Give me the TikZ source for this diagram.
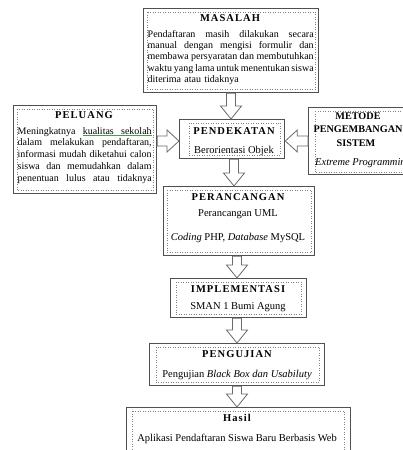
\documentclass[tikz,border=0pt]{standalone}
\usepackage{fontspec}
\setmainfont{Liberation Serif}
\newfontfamily\headfont[LetterSpace=10]{Liberation Serif}
\usetikzlibrary{calc}

\definecolor{edge}{HTML}{505050}
\definecolor{dots}{HTML}{808080}
\definecolor{arrowline}{HTML}{6A6A6A}
\definecolor{spellmark}{HTML}{4E9A4E}

% one justified line of fixed width
\newcommand\jl[2]{\makebox[#1][s]{\spaceskip=.25em plus 1fil minus .1em\relax #2}}
% green underline under a word, and under a stretched gap
\newcommand\gul[1]{\setbox0\hbox{#1}\rlap{{\color{spellmark}\rule[-1.6pt]{\wd0}{0.5pt}}}\box0}
\newcommand\gulgap{\leaders\hbox{{\color{spellmark}\rule[-1.6pt]{0.5pt}{0.5pt}}}\hskip .25em plus 1fil minus .1em\relax}
% dotted frame inside a box: node, left, top, right, bottom insets
\newcommand\inbox[5]{\draw[dotbox] ($(#1.north west)+(#2,#3)$) rectangle ($(#1.south east)+(-#4,-#5)$);}
% hollow block arrow pointing down: from, to, x
\newcommand\blockdown[3]{%
  \draw[barrow] let \p1=(#1.south), \p2=(#2.north) in
    ({#3pt-4.5pt},\y1) -- ({#3pt-4.5pt},{\y2+13pt}) -- ({#3pt-10.5pt},{\y2+13pt}) -- (#3pt,\y2)
    -- ({#3pt+10.5pt},{\y2+13pt}) -- ({#3pt+4.5pt},{\y2+13pt}) -- ({#3pt+4.5pt},\y1) -- cycle;}
% hollow block arrow, horizontal: from, to, y, direction (1 right, -1 left)
\newcommand\blockside[4]{%
  \draw[barrow] let \p1=(#1), \p2=(#2), \n1={#4*12} in
    (\x1,{-#3pt+5pt}) -- ({\x2-\n1 pt},{-#3pt+5pt}) -- ({\x2-\n1 pt},{-#3pt+11pt}) -- (\x2,-#3pt)
    -- ({\x2-\n1 pt},{-#3pt-11pt}) -- ({\x2-\n1 pt},{-#3pt-5pt}) -- (\x1,{-#3pt-5pt}) -- cycle;}

\begin{document}
\begin{tikzpicture}[x=1pt,y=-1pt,
  box/.style={draw=edge, line width=1.3pt, fill=white, inner sep=0pt, anchor=north west},
  dotbox/.style={draw=dots, line width=0.5pt, dotted},
  barrow/.style={draw=arrowline, line width=0.8pt, fill=white, line join=miter},
  head/.style={font=\headfont\bfseries\fontsize{10.5}{12}\selectfont, inner sep=0pt, anchor=base},
  headplain/.style={font=\bfseries\fontsize{10.2}{12}\selectfont, inner sep=0pt, anchor=base},
  txt/.style={font=\fontsize{10.5}{12}\selectfont, inner sep=0pt, anchor=base},
  para/.style={font=\fontsize{10}{11.2}\selectfont, inner sep=0pt, anchor=base west, align=left},
]
\useasboundingbox (0,0) rectangle (403,450);
\clip (0,0) rectangle (403,450);
\fill[white] (0,0) rectangle (403,450);

% frames
\node[box, minimum width=175, minimum height=84] (masalah) at (143,8) {};
\node[box, minimum width=143, minimum height=88] (peluang) at (13,105) {};
\node[box, minimum width=105, minimum height=39] (pendekatan) at (179,119) {};
\node[box, minimum width=115, minimum height=67] (metode) at (308,107) {};
\node[box, minimum width=151, minimum height=69] (perancangan) at (163,186) {};
\node[box, minimum width=136, minimum height=39] (implementasi) at (170,278) {};
\node[box, minimum width=175, minimum height=42] (pengujian) at (149,343) {};
\node[box, minimum width=224, minimum height=50] (hasil) at (126,407) {};

\inbox{masalah}{4}{4}{4}{4}
\inbox{peluang}{4}{4}{4}{4}
\inbox{pendekatan}{10}{4}{5}{4}
\inbox{metode}{7}{4}{4}{3}
\inbox{perancangan}{4}{4}{4}{4}
\inbox{implementasi}{6}{4}{6}{4}
\inbox{pengujian}{7}{4}{6}{4}
\inbox{hasil}{6}{4}{7}{4}

% MASALAH
\node[head] (masalahT) at (230,21.5) {MASALAH};
\node[para, text width=166pt] (masalahB) at (147.5,37.5) {%
  \jl{166pt}{Pendaftaran masih dilakukan secara}\\
  \jl{166pt}{manual dengan mengisi formulir dan}\\
  \jl{166pt}{membawa persyaratan dan membutuhkan}\\
  \jl{166pt}{waktu yang lama untuk menentukan siswa}\\
  diterima atau tidaknya};

% PELUANG
\node[head] (peluangT) at (84,118.5) {PELUANG};
\node[para, font=\fontsize{10}{11.8}\selectfont, text width=134pt] (peluangB) at (17.5,134) {%
  \jl{134pt}{Meningkatnya \gul{kualitas}\gulgap\gul{sekolah}}\\
  \jl{134pt}{dalam melakukan pendaftaran,}\\
  \jl{134pt}{informasi mudah diketahui calon}\\
  \jl{134pt}{siswa dan memudahkan dalam}\\
  \jl{134pt}{penentuan lulus atau tidaknya}};

% PENDEKATAN
\node[head] (pendekatanT) at (234,134.5) {PENDEKATAN};
\node[txt] (pendekatanB) at (234,153) {Berorientasi Objek};

% METODE PENGEMBANGAN SISTEM
\node[headplain] (metodeT1) at (358,119.5) {METODE};
\node[headplain] (metodeT2) at (358,132.5) {PENGEMBANGAN};
\node[headplain] (metodeT3) at (356,146.5) {SISTEM};
\node[txt, anchor=base west] (metodeB) at (315,165.5) {\textit{Extreme Programming}};

% PERANCANGAN
\node[head] (perancanganT) at (238,200) {PERANCANGAN};
\node[txt] (perancanganB1) at (238,216.5) {Perancangan UML};
\node[txt] (perancanganB2) at (238,240) {\textit{Coding} PHP, \textit{Database} MySQL};

% IMPLEMENTASI
\node[head] (implementasiT) at (238,292.5) {IMPLEMENTASI};
\node[txt] (implementasiB) at (238,309.5) {SMAN 1 Bumi Agung};

% PENGUJIAN
\node[head] (pengujianT) at (237,357.5) {PENGUJIAN};
\node[txt] (pengujianB) at (237,377.5) {Pengujian \textit{Black Box dan Usabiluty}};

% Hasil
\node[head] (hasilT) at (237,421.5) {Hasil};
\node[txt] (hasilB) at (237,441.5) {Aplikasi Pendaftaran Siswa Baru Berbasis Web};

% block arrows
\blockdown{masalah}{pendekatan}{231}
\blockside{peluang.east}{pendekatan.west}{141}{1}
\blockside{metode.west}{pendekatan.east}{141}{-1}
\blockdown{pendekatan}{perancangan}{234}
\blockdown{perancangan}{implementasi}{237}
\blockdown{implementasi}{pengujian}{237}
\blockdown{pengujian}{hasil}{237}
\end{tikzpicture}
\end{document}
